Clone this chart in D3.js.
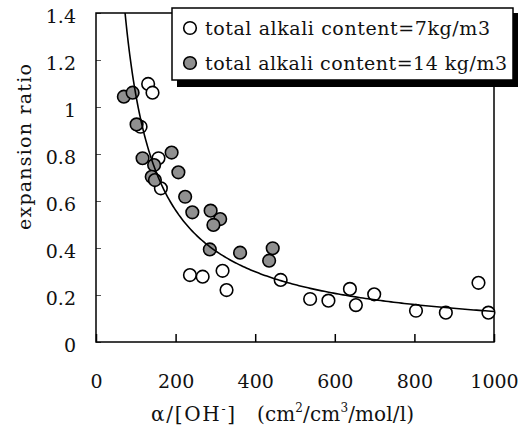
<!DOCTYPE html>
<html>
<head>
<meta charset="utf-8">
<script src="https://cdn.jsdelivr.net/npm/d3@7"></script>
<style>
  body { margin: 0; background: #fff; }
</style>
</head>
<body>
<div id="chart"></div>
<script>
// data
const openX = [131, 142, 112, 157, 163, 236, 268, 318, 328, 464, 538, 584, 638, 653, 699, 804, 879, 961, 986];
const openY = [1.098, 1.061, 0.916, 0.782, 0.654, 0.285, 0.278, 0.303, 0.221, 0.264, 0.183, 0.176, 0.226, 0.157, 0.203, 0.133, 0.125, 0.252, 0.125];
const grayX = [70, 92, 102, 117, 146, 190, 207, 140, 148, 224, 242, 288, 312, 295, 286, 362, 444, 435];
const grayY = [1.044, 1.061, 0.926, 0.782, 0.753, 0.806, 0.722, 0.703, 0.689, 0.618, 0.552, 0.559, 0.523, 0.498, 0.394, 0.380, 0.399, 0.346];
const xTicks = [0, 200, 400, 600, 800, 1000];
const yTicks = [0, 0.2, 0.4, 0.6, 0.8, 1, 1.2, 1.4];
const legendLabels = ["total alkali content=7kg/m3", "total alkali content=14 kg/m3"];
// power trend line y = a * x^b
const trendA = 68.9, trendB = -0.908;

const FONT = "DejaVu Serif";
const width = 523, height = 441;
const svg = d3.select("#chart").append("svg")
    .attr("width", width)
    .attr("height", height);

const x = d3.scaleLinear().domain([0, 1000]).range([96, 494]);
const y = d3.scaleLinear().domain([0, 1.4]).range([342, 13]);

// x axis, ticks inward
const xAxis = svg.append("g")
    .attr("transform", "translate(0," + y(0) + ")")
    .call(d3.axisBottom(x).tickValues(xTicks).tickSizeInner(-8).tickSizeOuter(0).tickFormat(d3.format("d")));
xAxis.attr("font-family", FONT);
xAxis.select(".domain").remove();
xAxis.selectAll("line").attr("stroke", "#000").attr("stroke-width", 1.5);
xAxis.selectAll("text").attr("y", 46).attr("dy", 0).attr("font-size", 19).attr("fill", "#111");

const yAxis = svg.append("g")
    .attr("transform", "translate(" + x(0) + ",0)")
    .call(d3.axisLeft(y).tickValues(yTicks).tickSizeInner(-5).tickSizeOuter(0).tickFormat(d => d));
yAxis.attr("font-family", FONT);
yAxis.select(".domain").remove();
yAxis.selectAll("line").attr("stroke", "#555").attr("stroke-width", 1);
yAxis.selectAll("text").attr("x", -20).attr("dy", "0.5em").attr("font-size", 19).attr("fill", "#111");

// frame
svg.append("rect")
    .attr("x", x(0)).attr("y", y(1.4))
    .attr("width", x(1000) - x(0)).attr("height", y(0) - y(1.4))
    .attr("fill", "none").attr("stroke", "#000").attr("stroke-width", 1.5);

// axis titles
svg.append("text")
    .attr("transform", "translate(24,147) rotate(-90)")
    .attr("text-anchor", "middle")
    .attr("dy", "0.35em")
    .attr("font-family", FONT)
    .attr("font-size", 19)
    .attr("fill", "#111")
    .attr("textLength", 166)
    .attr("lengthAdjust", "spacing")
    .text("expansion ratio");

const xt1 = svg.append("text")
    .attr("x", 151).attr("y", 421)
    .attr("font-family", FONT)
    .attr("font-size", 20)
    .attr("fill", "#111")
    .attr("textLength", 84)
    .attr("lengthAdjust", "spacing");
xt1.append("tspan").text("α/[OH");
xt1.append("tspan").attr("dy", -8).attr("font-size", 12).text("-");
xt1.append("tspan").attr("dy", 8).text("]");

const xt2 = svg.append("text")
    .attr("x", 257).attr("y", 421)
    .attr("font-family", FONT)
    .attr("font-size", 20)
    .attr("fill", "#111")
    .attr("textLength", 157)
    .attr("lengthAdjust", "spacing");
xt2.append("tspan").text("(cm");
xt2.append("tspan").attr("dy", -9).attr("font-size", 12).text("2");
xt2.append("tspan").attr("dy", 9).text("/cm");
xt2.append("tspan").attr("dy", -9).attr("font-size", 12).text("3");
xt2.append("tspan").attr("dy", 9).text("/mol/l)");

// points
const openPts = openX.map((d, i) => ({x: d, y: openY[i]}));
const grayPts = grayX.map((d, i) => ({x: d, y: grayY[i]}));

svg.selectAll(".open").data(openPts).enter().append("circle")
    .attr("class", "open")
    .attr("cx", d => x(d.x)).attr("cy", d => y(d.y)).attr("r", 6.3)
    .attr("fill", "#fff").attr("stroke", "#000").attr("stroke-width", 1.6);

svg.selectAll(".gray").data(grayPts).enter().append("circle")
    .attr("class", "gray")
    .attr("cx", d => x(d.x)).attr("cy", d => y(d.y)).attr("r", 6.3)
    .attr("fill", "#909090").attr("stroke", "#000").attr("stroke-width", 1.6);

// trend line, starts where it leaves the top of the plot
const x0 = Math.pow(1.4 / trendA, 1 / trendB);
const trendPts = d3.range(0, 201).map(i => {
  const xv = x0 + (1000 - x0) * Math.pow(i / 200, 1.6);
  return [xv, trendA * Math.pow(xv, trendB)];
});
svg.append("path")
    .datum(trendPts)
    .attr("fill", "none").attr("stroke", "#000").attr("stroke-width", 1.6)
    .attr("d", d3.line().x(d => x(d[0])).y(d => y(d[1])));

// legend with shadow
svg.append("rect").attr("x", 177).attr("y", 13).attr("width", 341).attr("height", 74).attr("fill", "#000");
svg.append("rect").attr("x", 172).attr("y", 8).attr("width", 341).attr("height", 72)
    .attr("fill", "#fff").attr("stroke", "#000").attr("stroke-width", 1.5);

const legendLen = [285, 302];
const legend = svg.selectAll(".leg").data(legendLabels).enter().append("g")
    .attr("class", "leg")
    .attr("transform", (d, i) => "translate(190," + (28 + i * 35) + ")");
legend.append("circle").attr("r", 6.3)
    .attr("fill", (d, i) => i === 0 ? "#fff" : "#909090")
    .attr("stroke", "#000").attr("stroke-width", 1.6);
legend.append("text").attr("x", 15).attr("dy", "0.35em")
    .attr("font-family", FONT)
    .attr("font-size", 19)
    .attr("fill", "#111")
    .attr("textLength", (d, i) => legendLen[i])
    .attr("lengthAdjust", "spacing")
    .text(d => d);
</script>
</body>
</html>
